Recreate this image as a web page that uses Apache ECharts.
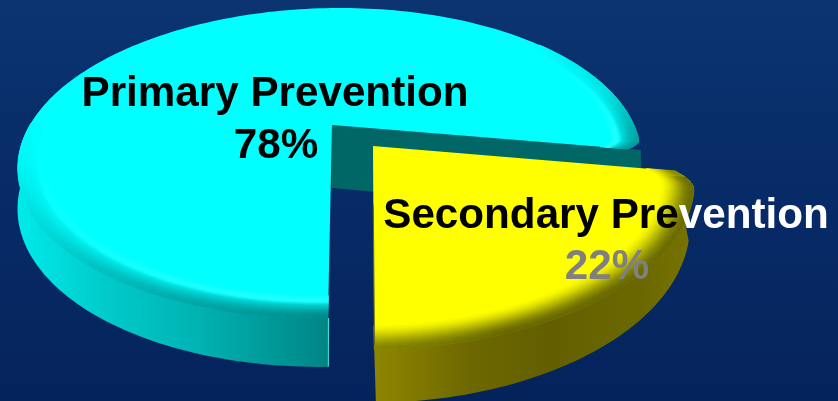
<!DOCTYPE html>
<html><head><meta charset="utf-8">
<style>html,body{margin:0;padding:0;background:#06265f}#c{width:838px;height:401px}</style>
<script src="https://cdn.jsdelivr.net/npm/echarts@6/dist/echarts.min.js"></script>
</head><body><div id="c"></div>
<script>
const categories = ['Primary Prevention', 'Secondary Prevention'];
const values = [78, 22];
const startDeg = 88.7;

function ramp(stops,a){
  for(let j=1;j<stops.length;j++){ if(a<=stops[j][0]){const s=stops[j-1],e=stops[j];return s[1]+(e[1]-s[1])*(a-s[0])/(e[0]-s[0]);} }
  return stops[stops.length-1][1];
}
const geo = [
  { top:{x:332,y:125,k:302,h:145.7,p:.245,s:.068}, bot:{x:332,y:188,k:312,h:162.6,p:.091,s:.067}, rgb:[0,255,255],
    side:[[0,'#00eaea'],[.26,'#00cccc'],[.58,'#00b2b2'],[1,'#008484']], sx:[20,330], bevel:.09, hi:40,
    dark:[[0,.36],[88,.47],[118,.30],[140,.16],[168,.03],[185,0],[320,0],[345,.12],[370,.42]],
    round:{deg:4,cut:.04} },
  { top:{x:373,y:146,k:313,h:154,p:.245,s:.04}, bot:{x:373,y:212,k:316,h:173.6,p:.091,s:.026}, rgb:[255,255,0],
    side:[[0,'#8e8600'],[.3,'#6e6800'],[.55,'#635f00'],[.85,'#6c6800'],[1,'#787400']], sx:[374,692], bevel:.1, hi:0,
    dark:[[0,.58],[70,.6],[90,.47]],
    round:{deg:6,cut:.055} }
];
const textLayout = [{x:275,y1:94,y2:146},{x:607,y1:216,y2:267}];

function pt(g,a,r){
  const t=a*Math.PI/180,c=r*Math.cos(t),s=r*Math.sin(t),w=1-g.p*s;
  const dy=g.h*s/w;
  return [g.x+g.k*c/w-g.s*dy,g.y+dy];
}
const rgbs=c=>'rgb('+c.map(v=>Math.max(0,Math.min(255,Math.round(v)))).join(',')+')';

function renderItem(params, api){
  const i=params.dataIndex, g=geo[i], total=values.reduce((a,b)=>a+b,0);
  const sweep=api.value(0)/total*360;
  const a0=i===0?startDeg:startDeg-sweep, a1=a0+sweep;
  const ch=[];
  const arc=(d,from,to,rf)=>{const o=[],n=Math.ceil(Math.abs(to-from)/1.5);for(let j=0;j<=n;j++){const a=from+(to-from)*j/n;o.push(pt(d,a,rf?rf(a):1));}return o;};
  const R=g.round;
  const rim=a=>{const d=i===0?a1-a:a-a0;return d<R.deg?1-R.cut*Math.pow(1-d/R.deg,2):1;};
  if(i===0){
    ch.push({type:'polygon',shape:{points:[pt(g.top,0,0),pt(g.top,a1,1),pt(g.bot,a1,1),pt(g.bot,0,0)]},style:{fill:'#006666'}});
  }
  const sideTo=i===0?a0+110:a1;
  const wall=arc(g.top,a0,sideTo,rim).concat(arc(g.bot,sideTo,a0));
  ch.push({type:'polygon',shape:{points:wall},style:{fill:new echarts.graphic.LinearGradient(g.sx[0],0,g.sx[1],0,g.side.map(s=>({offset:s[0],color:s[1]})),true)}});
  const face=[pt(g.top,0,0)].concat(arc(g.top,a0,a1,rim));
  ch.push({type:'polygon',shape:{points:face},style:{fill:rgbs(g.rgb)}});
  const rings=14, step=2;
  for(let k=0;k<rings;k++){
    const r0=1-g.bevel*(1-k/rings), r1=1-g.bevel*(1-(k+1)/rings), t=(k+.5)/rings;
    const prof=t*t*(3-2*t);
    for(let a=a0;a<a1-1e-6;a+=step){
      const b=Math.min(a+step,a1), m=(a+b)/2;
      const base=ramp(g.dark,m);
      let dk=base*prof;
      if(i===1) dk*=Math.min(1,(m-a0+1)/2.5);
      const hl=g.hi*Math.max(0,1-Math.abs(t-.22)/.22)*Math.min(1,base*2.5);
      if(dk<.006&&hl<1) continue;
      const col=rgbs(g.rgb.map(v=>v*(1-dk)+hl));
      const pts=[pt(g.top,a,r0*rim(a)),pt(g.top,b,r0*rim(b)),pt(g.top,b,r1*rim(b)),pt(g.top,a,r1*rim(a))];
      ch.push({type:'polygon',shape:{points:pts},style:{fill:col,stroke:col,lineWidth:.8}});
    }
  }
  if(i===0){
    const p=pt(g.top,a0,1), q=pt(g.bot,a0,1);
    ch.push({type:'line',shape:{x1:p[0]+.5,y1:p[1],x2:q[0]+.5,y2:q[1]},style:{stroke:'#3fdcdc',lineWidth:1.2}});
  } else {
    ch.push({type:'line',shape:{x1:373.3,y1:205,x2:374.5,y2:345},style:{stroke:'#6a6a20',lineWidth:1}});
  }
  return {type:'group',children:ch};
}

const font='bold 42.2px "Liberation Sans", Arial, sans-serif';
function labelItem(params, api){
  const i=params.dataIndex, L=textLayout[i], name=categories[i], pct=api.value(0)+'%';
  if(i===0){
    return {type:'group',children:[
      {type:'text',style:{text:name,x:L.x,y:L.y1,fill:'#000',font,align:'center',verticalAlign:'middle'}},
      {type:'text',style:{text:pct,x:L.x+1,y:L.y2,fill:'#000',font,align:'center',verticalAlign:'middle'}}
    ]};
  }
  const split=13;
  return {type:'group',children:[
    {type:'text',style:{text:'{a|'+name.slice(0,split)+'}{b|'+name.slice(split)+'}',x:606,y:L.y1,font,align:'center',verticalAlign:'middle',
      rich:{a:{fill:'#000',font},b:{fill:'#fff',font}}}},
    {type:'text',style:{text:pct,x:L.x,y:L.y2,fill:'#808080',font,align:'center',verticalAlign:'middle'}}
  ]};
}

const chart=echarts.init(document.getElementById('c'),null,{renderer:'canvas'});
chart.setOption({
  animation:false,
  backgroundColor:new echarts.graphic.LinearGradient(0,0,0,1,[{offset:0,color:'#0b3470'},{offset:.55,color:'#072a66'},{offset:1,color:'#05235b'}]),
  series:[
    {type:'custom',coordinateSystem:'none',silent:true,renderItem,data:values.map(v=>[v]),z:1},
    {type:'custom',coordinateSystem:'none',silent:true,renderItem:labelItem,data:values.map(v=>[v]),z:2}
  ]
});
</script></body></html>
